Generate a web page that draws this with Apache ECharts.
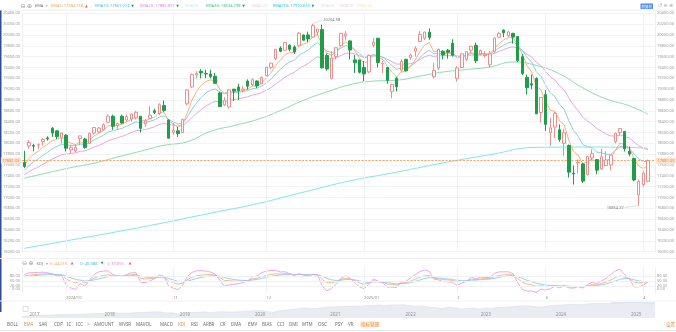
<!DOCTYPE html>
<html><head><meta charset="utf-8">
<script src="https://cdn.jsdelivr.net/npm/echarts@6/dist/echarts.min.js"></script>
<style>html,body{margin:0;padding:0;background:#fff}#c{width:676px;height:332px}</style>
</head><body><div id="c"></div>
<script>
// ---------- data ----------
const dates = ['2024/09/18','2024/09/19','2024/09/20','2024/09/23','2024/09/24','2024/09/25','2024/09/26','2024/09/27','2024/09/30',
'2024/10/01','2024/10/02','2024/10/03','2024/10/04','2024/10/07','2024/10/08','2024/10/09','2024/10/10','2024/10/11','2024/10/14','2024/10/15','2024/10/16','2024/10/17','2024/10/18','2024/10/21','2024/10/22','2024/10/23','2024/10/24','2024/10/25','2024/10/28','2024/10/29','2024/10/30','2024/10/31',
'2024/11/01','2024/11/04','2024/11/05','2024/11/06','2024/11/07','2024/11/08','2024/11/11','2024/11/12','2024/11/13','2024/11/14','2024/11/15','2024/11/18','2024/11/19','2024/11/20','2024/11/21','2024/11/22','2024/11/25','2024/11/26','2024/11/27','2024/11/29',
'2024/12/02','2024/12/03','2024/12/04','2024/12/05','2024/12/06','2024/12/09','2024/12/10','2024/12/11','2024/12/12','2024/12/13','2024/12/16','2024/12/17','2024/12/18','2024/12/19','2024/12/20','2024/12/23','2024/12/24','2024/12/26','2024/12/27','2024/12/30','2024/12/31',
'2025/01/02','2025/01/03','2025/01/06','2025/01/07','2025/01/08','2025/01/10','2025/01/13','2025/01/14','2025/01/15','2025/01/16','2025/01/17','2025/01/21','2025/01/22','2025/01/23','2025/01/24','2025/01/27','2025/01/28','2025/01/29','2025/01/30','2025/01/31',
'2025/02/03','2025/02/04','2025/02/05','2025/02/06','2025/02/07','2025/02/10','2025/02/11','2025/02/12','2025/02/13','2025/02/14','2025/02/18','2025/02/19','2025/02/20','2025/02/21','2025/02/24','2025/02/25','2025/02/26','2025/02/27','2025/02/28',
'2025/03/03','2025/03/04','2025/03/05','2025/03/06','2025/03/07','2025/03/10','2025/03/11','2025/03/12','2025/03/13','2025/03/14','2025/03/17','2025/03/18','2025/03/19','2025/03/20','2025/03/21','2025/03/24','2025/03/25','2025/03/26','2025/03/27','2025/03/28','2025/03/31',
'2025/04/01','2025/04/02'];

const opens = [17647,17950,17960,17970,18030,18100,18280,18230,18100,18150,
17880,17860,18090,18080,18000,18190,18210,18250,18390,18500,
18330,18500,18430,18450,18470,18500,18360,18460,18600,18550,
18700,18430,18200,18230,18200,18730,19040,19260,19330,19290,
19280,19240,18930,18710,18670,19000,19040,18980,19150,19080,
19150,19100,19250,19400,19560,19760,19720,19810,19780,19800,
20000,20000,19960,20050,20100,19620,19200,19600,19800,19980,
19890,19540,19540,19400,19320,19810,19940,19470,19400,18960,
19200,19350,19550,19580,19700,19880,19940,20050,19230,19390,
19700,19720,19850,19200,19400,19550,19720,19810,19650,19620,
19450,19700,19960,20090,19990,20030,19970,19600,19220,19100,
19200,18570,18900,18200,18300,18250,18000,17960,17450,17640,
17620,17420,17730,17700,17530,17590,17600,18030,18200,18220,
17850,17720,17050,17240,17300];

const closes = [17573,18014,17948,17974,18075,18082,18190,18120,18189,17910,
17925,17918,18138,17924,18183,18292,18282,18343,18503,18316,
18367,18374,18490,18540,18573,18277,18415,18519,18567,18713,
18608,18095,18240,18180,18439,18983,19269,19287,19299,19281,
19231,19108,18680,18792,18987,18966,18972,19004,19055,19174,
19060,19218,19404,19481,19735,19700,19860,19737,19687,20035,
19903,19927,20174,20109,19393,19373,19573,19765,20031,20020,
19722,19487,19311,19281,19622,19865,19490,19479,19162,19088,
19044,19511,19338,19630,19757,20009,20054,19954,19342,19734,
19632,19682,19627,19392,19654,19692,19792,19523,19714,19644,
19650,19946,20027,20041,20056,19962,19524,19287,19026,19075,
18544,18847,18350,18285,18553,18069,18196,17468,17436,17648,
17303,17754,17809,17504,17751,17692,17784,18189,18272,17899,
17804,17323,17299,17450,17681.03];

const lows = [17545,17900,17850,17900,17960,18050,18120,18080,18000,17850,
17820,17830,17970,17900,17990,18160,18180,18240,18370,18250,
18250,18360,18400,18400,18440,18200,18300,18450,18540,18520,
18580,18090,18160,18120,18200,18700,19020,19200,19200,19200,
19200,19100,18670,18690,18640,18780,18800,18940,18990,19050,
19020,19090,19240,19370,19540,19680,19710,19700,19650,19790,
19900,19870,19950,19990,19380,19340,19180,19550,19800,19910,
19550,19300,19290,19150,19290,19770,19400,19300,19100,18830,
18960,19320,19330,19540,19600,19870,19910,19910,19200,19350,
19550,19560,19600,19140,19400,19520,19660,19480,19620,19580,
19400,19660,19940,19960,19960,19840,19500,19260,18900,19000,
18540,18380,18230,17950,18100,18030,17770,17370,17240,17450,
17270,17410,17680,17430,17510,17580,17500,18000,18140,17850,
17760,17300,16854.37,17200,17280];

const highs = [17862,18060,17990,18000,18100,18130,18300,18240,18200,18170,
17970,17980,18140,18100,18200,18300,18300,18370,18530,18530,
18380,18530,18530,18550,18600,18500,18450,18690,18640,18740,
18790,18450,18380,18300,18460,19000,19290,19330,19370,19360,
19360,19300,18950,18850,19000,19000,19100,19060,19180,19200,
19160,19230,19410,19490,19740,19790,19870,19830,19810,20055,
20010,20060,20204.58,20110,20190,19660,19700,19770,20035,20070,
19900,19630,19540,19520,19640,19950,19950,19520,19400,19100,
19230,19550,19560,19660,19790,20070,20060,20120,19480,19750,
19720,19740,19920,19420,19670,19700,19800,19860,19730,19700,
19700,19950,20050,20100,20070,20040,19980,19650,19270,19270,
19220,18850,18980,18470,18580,18350,18270,17980,17590,17700,
17640,17770,17890,17710,17900,17850,17800,18200,18280,18230,
17940,17720,17330,17490,17700];

const ema5 = [17580,17725,17799,17857,17930,17981,18051,18074,18112,18045,
18005,17976,18030,17995,18058,18136,18185,18238,18326,18323,
18338,18350,18397,18445,18488,18418,18417,18451,18490,18564,
18579,18418,18359,18299,18346,18558,18795,18959,19072,19142,
19172,19151,18994,18927,18947,18953,18959,18974,19001,19059,
19059,19112,19209,19300,19445,19530,19640,19672,19677,19796,
19832,19864,19967,20014,19807,19662,19632,19676,19794,19869,
19820,19709,19576,19478,19526,19639,19589,19552,19422,19311,
19222,19318,19325,19427,19537,19694,19814,19861,19688,19703,
19679,19680,19662,19572,19599,19630,19684,19630,19658,19653,
19652,19750,19842,19908,19957,19959,19814,19638,19434,19314,
19057,18987,18775,18612,18592,18418,18344,18052,17847,17781,
17622,17666,17714,17644,17680,17684,17717,17874,18007,17971,
17915,17718,17578,17535,17584];

const ema10 = [17500,17593,17658,17715,17780,17835,17900,17940,17985,17971,
17963,17955,17988,17976,18014,18065,18104,18147,18212,18231,
18256,18277,18316,18357,18396,18374,18381,18406,18435,18486,
18508,18433,18398,18358,18373,18484,18627,18747,18847,18926,
18981,19004,18945,18917,18930,18937,18943,18954,18972,19009,
19018,19054,19118,19184,19284,19360,19451,19503,19536,19627,
19677,19722,19804,19859,19774,19701,19678,19694,19755,19803,
19788,19733,19656,19588,19594,19643,19615,19590,19512,19435,
19364,19391,19381,19426,19486,19581,19667,19719,19650,19665,
19659,19663,19656,19608,19616,19630,19659,19634,19649,19648,
19648,19702,19761,19812,19856,19875,19811,19716,19591,19497,
19324,19237,19076,18932,18863,18719,18624,18414,18236,18129,
17979,17938,17915,17840,17824,17800,17797,17868,17941,17933,
17910,17803,17711,17664,17667];

const ema20 = [17420,17477,17522,17565,17614,17659,17710,17749,17791,17802,
17814,17824,17854,17861,17892,17930,17964,18000,18048,18074,
18102,18128,18162,18198,18234,18238,18255,18280,18307,18346,
18371,18345,18335,18320,18331,18393,18476,18553,18624,18687,
18739,18774,18765,18768,18789,18806,18822,18839,18860,18890,
18906,18936,18981,19029,19096,19154,19221,19270,19310,19379,
19429,19476,19542,19596,19577,19558,19559,19579,19622,19660,
19666,19649,19617,19585,19589,19615,19603,19591,19550,19506,
19462,19467,19455,19472,19499,19548,19596,19630,19603,19615,
19617,19623,19623,19601,19606,19614,19631,19621,19630,19631,
19633,19663,19698,19731,19762,19781,19757,19712,19647,19593,
19493,19432,19329,19230,19166,19062,18980,18836,18703,18603,
18479,18410,18353,18272,18222,18172,18135,18140,18153,18129,
18098,18024,17955,17907,17885];

// [day index, value]
const ema60 = [[0,17355],[5,17457],[10,17551],[15,17634],[20,17746],[25,17855],[30,17964],[35,18029],[40,18221],[45,18327],[50,18439],[55,18604],[60,18795],[65,18949],[70,19083],[75,19149],[80,19165],[85,19240],[90,19317],[95,19362],[100,19409],[105,19501],[110,19438],[115,19281],[120,19024],[125,18820],[130,18692],[134,18534]];
const ema250 = [[0,16063],[10,16215],[20,16370],[30,16534],[40,16711],[50,16885],[60,17100],[70,17308],[80,17468],[90,17639],[100,17790],[110,17925],[120,17932],[130,17925],[134,17910]];

const kdjK = [78.7,84.8,87.2,89.5,92.0,92.0,90.3,85.5,85.3,61.2,48.1,38.7,47.8,39.2,51.5,67.0,76.7,82.8,87.2,81.1,
78.7,77.5,82.7,87.5,89.7,66.1,62.1,63.1,67.1,76.4,73.9,49.6,40.1,31.1,37.4,57.6,71.1,79.7,84.5,87.3,
87.9,84.9,70.3,52.5,51.0,49.0,47.7,48.8,51.9,61.6,66.1,76.7,84.1,89.1,92.4,91.3,93.9,90.6,86.4,90.3,
87.2,85.1,88.4,86.6,58.4,40.3,39.5,45.3,57.9,65.9,61.6,51.1,38.4,30.3,37.2,50.8,46.2,42.8,30.9,28.3,
25.2,37.1,39.7,50.1,61.1,72.4,81.3,83.2,66.5,63.7,58.1,56.1,52.7,43.8,46.5,49.7,61.1,57.1,62.7,63.5,
64.0,75.7,82.5,85.7,88.5,85.7,63.1,43.1,32.4,26.6,17.7,20.8,16.2,16.1,20.7,16.1,20.1,15.1,13.4,16.6,
12.4,20.9,27.9,26.6,34.4,43.3,56.2,70.5,80.0,72.0,62.7,42.5,38.7,39.8,45.9];
const kdjD = [74.2,77.7,80.9,83.8,86.5,88.3,89.0,87.8,87.0,78.4,68.3,58.4,54.9,49.7,50.3,55.9,62.8,69.5,75.4,77.3,
77.8,77.7,79.4,82.1,84.6,78.4,73.0,69.7,68.8,71.3,72.2,64.7,56.5,48.0,44.5,48.9,56.3,64.1,70.9,76.4,
80.2,81.8,78.0,69.5,63.3,58.5,54.9,52.9,52.6,55.6,59.1,65.0,71.4,77.3,82.3,85.3,88.2,89.0,88.1,88.8,
88.3,87.2,87.6,87.3,77.7,65.2,56.6,52.8,54.5,58.3,59.4,56.6,50.5,43.8,41.6,44.7,45.2,44.4,39.9,36.0,
32.4,34.0,35.9,40.6,47.4,55.7,64.2,70.5,69.2,67.4,64.3,61.6,58.6,53.7,51.3,50.8,54.2,55.2,57.7,59.6,
61.1,66.0,71.5,76.2,80.3,82.1,75.8,64.9,54.1,44.9,35.8,30.8,25.9,22.6,22.0,20.0,20.0,18.4,16.7,16.7,
15.3,17.2,20.8,22.7,26.6,32.2,40.2,50.3,60.2,64.1,63.6,56.6,50.6,47.0,46.6];
const kdjJ = [87.7,99.0,99.8,100.9,103.0,99.4,92.9,80.9,81.9,26.8,7.7,-0.7,33.6,18.2,53.9,89.2,104.5,109.4,110.8,88.7,
80.5,77.1,89.3,98.3,99.9,41.5,40.3,49.9,63.7,86.6,77.3,19.4,7.3,-2.7,23.2,75.0,100.7,110.9,111.7,109.1,
103.3,91.1,54.9,18.5,26.4,30.0,33.3,40.6,50.5,73.6,80.1,100.1,109.5,112.7,112.6,103.3,105.3,93.8,83.0,93.3,
85.0,80.9,90.0,85.2,19.8,-9.5,5.3,30.3,64.7,81.1,66.0,40.1,14.2,3.3,28.4,63.0,48.2,39.6,12.9,12.9,
10.8,43.3,47.3,69.1,88.5,105.8,115.5,108.6,61.1,56.3,45.7,45.1,40.9,24.0,36.9,47.5,74.9,60.9,72.7,71.3,
69.8,95.1,104.5,104.7,104.9,92.9,37.7,-0.5,-11.0,-10.0,-18.5,0.8,-3.2,3.1,18.1,8.3,20.3,8.5,6.8,16.4,
6.6,28.3,42.1,34.4,50.0,65.5,88.2,110.9,119.6,87.8,60.9,14.3,14.9,25.4,44.5];
const kdjLabelTicks = [0, 20, 50, 80];

// overview (navigator) monthly closes, Nov 2016 .. Apr 2025
const navStart = [2016, 11];
const navClose = [5323,5383,
5615,5825,5912,6048,6199,6140,6348,6429,6496,6728,6873,6903,
7411,7273,7063,7066,7442,7510,7672,8109,8046,7306,7331,6635,
7282,7533,7729,8095,7453,8006,8175,7963,7999,8292,8665,8973,
9151,8567,7700,8890,9490,10059,10745,11775,11168,10912,12199,12888,
13070,13192,13247,13962,13749,14504,14673,15259,14448,15498,15538,15645,
14240,13751,14221,12335,12081,11029,12391,11816,10576,10988,11468,10466,
11585,11456,12222,12227,12935,13788,14346,14035,13219,12851,14226,15011,
15164,16092,16379,15658,16735,17733,17599,17714,18189,18095,19218,19311,
19627,18847,17299,17681];

const emaLegend = [
  {name:'EMA5', value:'17584.158', color:'#f5a35c', arrow:'▲', on:true},
  {name:'EMA10', value:'17667.074', color:'#5cb8ea', arrow:'▼', on:true},
  {name:'EMA20', value:'17885.807', color:'#e48ad8', arrow:'▼', on:true},
  {name:'EMA30', color:'#cfe4f6', on:false},
  {name:'EMA60', value:'18534.298', color:'#47c08a', arrow:'▼', on:true},
  {name:'EMA120', color:'#f8cfd6', on:false},
  {name:'EMA250', value:'17910.613', color:'#27c7d4', arrow:'▼', on:true},
  {name:'EMA90', color:'#dedede', on:false},
  {name:'EMA99', color:'#e6d6f6', on:false},
  {name:'EMA144', color:'#f8e6b3', on:false}
];
const emaLegendX = [51,95,140,185,206,252,273,321,340,357];
const kdjLegend = [
  {name:'K', value:'44.010', color:'#f5a35c', arrow:'▲'},
  {name:'D', value:'46.088', color:'#5cb8ea', arrow:'▼'},
  {name:'J', value:'39.855', color:'#e48ad8', arrow:'▲'}
];
const kdjLegendX = [50,80,108];
const tabs = ['BOLL','EMA','SAR','CDP','IC','ICC','>','AMOUNT','WVSR','MAVOL','MACD','KDJ','RSI','ARBR','CR','DMA','EMV','BIAS','CCI','DMI','MTM','OSC','PSY','VR','指标管理'];
const tabX = [7,24,39,54,67,76,87,94,119,136,160,178,191,203,220,231,248,262,277,289,302,318,335,348,360];
const activeTabs = ['EMA','KDJ','指标管理'];

// ---------- derived ----------
const cats = dates.concat(['']);
const candle = dates.map((d, i) => [opens[i], closes[i], lows[i], highs[i]]);
const monthStarts = [];
dates.forEach((d, i) => { if (i > 0 && d.slice(5, 7) !== dates[i - 1].slice(5, 7)) monthStarts.push(i); });
const monthLabel = {};
monthStarts.forEach((i, k) => {
  const y = dates[i].slice(0, 4), m = dates[i].slice(5, 7);
  monthLabel[i] = (k === 0 || m === '01') ? y + '/' + m : String(Number(m));
});
const navCats = navClose.map((v, i) => {
  const t = navStart[0] * 12 + (navStart[1] - 1) + i;
  return Math.floor(t / 12) + '/' + String(t % 12 + 1).padStart(2, '0');
});
const navWinStart = navCats.indexOf(dates[0].slice(0, 7));
const lastPrice = closes[closes.length - 1];
const hiVal = Math.max(...highs), hiIdx = highs.indexOf(hiVal);
const loVal = Math.min(...lows), loIdx = lows.indexOf(loVal);

// ---------- chart ----------
const FONT = '"Noto Sans", sans-serif';
const chart = echarts.init(document.getElementById('c'), null, {renderer: 'canvas'});
const vGrid = monthStarts.map(i => ({xAxis: i}));
const txt = (x, y, text, fill, extra) => ({type:'text', x, y, silent:true, z:100,
  style: Object.assign({text, fill, font: '4px ' + FONT, verticalAlign:'middle', align:'left'}, extra || {})});

const graphic = [
  {type:'rect', shape:{x:0,y:10,width:1.5,height:302}, style:{fill:'#2e4d96'}, silent:true},
  {type:'line', shape:{x1:0,y1:10,x2:676,y2:10}, style:{stroke:'#eeeeee',lineWidth:1}, silent:true},
  {type:'line', shape:{x1:0,y1:258.5,x2:676,y2:258.5}, style:{stroke:'#f0f0f0',lineWidth:1}, silent:true},
  {type:'line', shape:{x1:0,y1:301,x2:676,y2:301}, style:{stroke:'#f0f0f0',lineWidth:1}, silent:true},
  {type:'line', shape:{x1:0,y1:330.5,x2:676,y2:330.5}, style:{stroke:'#e6e6e6',lineWidth:1}, silent:true},
  {type:'rect', shape:{x:23,y:306.5,width:5,height:5,r:0.5}, style:{fill:'#fff',stroke:'#c4c8d0',lineWidth:0.6}, silent:true},
  txt(20.5,6,'⊖','#9a9a9a',{font:'6px DejaVu Sans'}), txt(27,6,'⊕','#9a9a9a',{font:'6px DejaVu Sans'}),
  txt(35,6,'EMA','#777'), txt(45.5,6,'▾','#aaa',{font:'4px DejaVu Sans'}),
  {type:'rect', shape:{x:640.5,y:3.5,width:12.5,height:5.5,r:0.5}, style:{fill:'#4f89ee'}, silent:true},
  txt(646.75,6.3,'前复权','#fff',{font:'3.5px "Noto Sans CJK SC"', align:'center'}),
  txt(658,6,'↺','#aaa',{font:'5px DejaVu Sans'}), txt(663.5,6,'⊖','#aaa',{font:'5px DejaVu Sans'}), txt(669,6,'⊕','#aaa',{font:'5px DejaVu Sans'}),
  txt(22,263.5,'⊖','#9a9a9a',{font:'6px DejaVu Sans'}), txt(28.5,263.5,'⊕','#9a9a9a',{font:'6px DejaVu Sans'}),
  txt(36.5,263.5,'KDJ','#777'), txt(46,263.5,'▾','#aaa',{font:'4px DejaVu Sans'})
];
emaLegend.forEach((e, k) => {
  const x = emaLegendX[k];
  const label = e.value ? e.name + ': ' + e.value : e.name;
  graphic.push(txt(x, 6, label, e.color));
  if (e.arrow) {
    const w = label.length * 2.2 + 1;
    graphic.push(txt(x + w, 6, e.arrow, e.arrow === '▲' ? '#ee5b5b' : '#25a35a', {font:'3.5px DejaVu Sans'}));
  }
});
kdjLegend.forEach((e, k) => {
  const x = kdjLegendX[k];
  const label = e.name + ': ' + e.value;
  graphic.push(txt(x, 263.5, label, e.color));
  graphic.push(txt(x + label.length * 2.2 + 1, 263.5, e.arrow, e.arrow === '▲' ? '#ee5b5b' : '#25a35a', {font:'3.5px DejaVu Sans'}));
});
tabs.forEach((t, k) => {
  const active = activeTabs.indexOf(t) >= 0;
  const extra = {font: '4.5px ' + (/[\u4e00-\u9fff]/.test(t) ? '"Noto Sans CJK SC"' : FONT)};
  if (t === '指标管理') { extra.backgroundColor = '#fdeee2'; extra.padding = [0.5, 1]; }
  graphic.push(txt(tabX[k], 324.3, t, active ? '#f08a3c' : '#6b6b6b', extra));
});
graphic.push(txt(666, 324.3, '设置', '#f08a3c', {font:'4.5px "Noto Sans CJK SC"'}));
// navigator year labels placed on the overview axis positions
const navYears = navCats.map((c, i) => c.slice(5) === '01' ? i : -1).filter(i => i >= 0);

const yLab = {fontSize:4, color:'#9a9a9a', fontFamily:FONT, margin:2};
const option = {
  animation: false,
  backgroundColor: '#fff',
  textStyle: {fontFamily: FONT},
  grid: [
    {left:22, right:21, top:13.3, height:238.4, outerBoundsMode:'none'},
    {left:22, right:21, top:267.6, height:25, outerBoundsMode:'none'},
    {left:22, right:21, top:302, height:16, outerBoundsMode:'none'}
  ],
  xAxis: [
    {type:'category', gridIndex:0, data:cats, boundaryGap:true, axisLine:{show:false}, axisTick:{show:false}, axisLabel:{show:false}, splitLine:{show:false}},
    {type:'category', gridIndex:1, data:cats, boundaryGap:true, axisLine:{show:false}, axisTick:{show:false}, splitLine:{show:false},
     axisLabel:{fontSize:4, color:'#8a8a8a', margin:3, align:'left', interval:(i) => monthLabel[i] !== undefined, formatter:(v, i) => monthLabel[i] || ''}},
    {type:'category', gridIndex:2, data:navCats, boundaryGap:false, axisLine:{show:false}, axisTick:{show:false}, splitLine:{show:false}, z:10,
     axisLabel:{show:true, inside:true, fontSize:4.5, color:'#8f8f8f', margin:1, interval:(i) => navYears.indexOf(i) >= 0, formatter:(v) => v.slice(0, 4)}}
  ],
  yAxis: [
    {type:'value', gridIndex:0, min:16000, max:20400, interval:200, position:'left', axisLine:{show:true, lineStyle:{color:'#eceef2'}}, axisTick:{show:false},
     splitLine:{lineStyle:{color:'#f2f3f5'}}, axisLabel:Object.assign({formatter:(v) => v.toFixed(2)}, yLab)},
    {type:'value', gridIndex:0, min:16000, max:20400, interval:200, position:'right', axisLine:{show:true, lineStyle:{color:'#eceef2'}}, axisTick:{show:false},
     splitLine:{show:false}, axisLabel:Object.assign({formatter:(v) => v.toFixed(2)}, yLab)},
    {type:'value', gridIndex:1, min:-20, max:130, interval:10, position:'left', axisLine:{show:true, lineStyle:{color:'#eceef2'}}, axisTick:{show:false},
     splitLine:{show:false}, axisLabel:Object.assign({formatter:(v) => kdjLabelTicks.indexOf(v) >= 0 ? v.toFixed(2) : ''}, yLab)},
    {type:'value', gridIndex:1, min:-20, max:130, interval:10, position:'right', axisLine:{show:true, lineStyle:{color:'#eceef2'}}, axisTick:{show:false},
     splitLine:{show:false}, axisLabel:Object.assign({formatter:(v) => kdjLabelTicks.indexOf(v) >= 0 ? v.toFixed(2) : ''}, yLab)},
    {type:'log', gridIndex:2, min:4500, max:20500, axisLine:{show:false}, axisTick:{show:false}, axisLabel:{show:false}, splitLine:{show:false}}
  ],
  graphic: graphic,
  series: [
    {name:'EMA250', type:'line', xAxisIndex:0, yAxisIndex:0, data:ema250, smooth:true, symbol:'none', z:1,
     lineStyle:{color:'#7fe6ee', width:1},
     markLine:{silent:true, symbol:['none','none'], label:{show:false}, lineStyle:{color:'#eef0f3', width:1, type:'solid'}, data:vGrid}},
    {name:'EMA60', type:'line', xAxisIndex:0, yAxisIndex:0, data:ema60, smooth:true, symbol:'none', z:2, lineStyle:{color:'#8ddcb2', width:1}},
    {name:'EMA20', type:'line', xAxisIndex:0, yAxisIndex:0, data:ema20, symbol:'none', z:2, lineStyle:{color:'#eaa6e2', width:1}},
    {name:'EMA10', type:'line', xAxisIndex:0, yAxisIndex:0, data:ema10, symbol:'none', z:2, lineStyle:{color:'#8ccdee', width:1}},
    {name:'EMA5', type:'line', xAxisIndex:0, yAxisIndex:0, data:ema5, symbol:'none', z:2, lineStyle:{color:'#f7b47a', width:1}},
    {name:'K', type:'candlestick', xAxisIndex:0, yAxisIndex:0, data:candle, barWidth:3, z:5,
     itemStyle:{color:'#ffffff', color0:'#1f9e4a', borderColor:'#f08c8c', borderColor0:'#1f9e4a', borderWidth:1},
     markLine:{silent:true, symbol:['none','none'], animation:false, data:[
       {yAxis:lastPrice, lineStyle:{color:'#f7a35c', type:[2,1.5], width:0.8},
        label:{position:'start', distance:1, formatter:lastPrice.toFixed(2), fontSize:4, color:'#f07f35', backgroundColor:'#fde4d2', padding:[1,1.5]}},
       {yAxis:lastPrice, lineStyle:{color:'#f7a35c', type:[2,1.5], width:0.8},
        label:{position:'end', distance:1, formatter:lastPrice.toFixed(2), fontSize:4, color:'#f07f35', backgroundColor:'#fde4d2', padding:[1,1.5]}},
       [{coord:[hiIdx, hiVal], lineStyle:{color:'#c8c8c8', width:0.6, type:'solid'}, label:{position:'end', distance:1, formatter:hiVal.toFixed(2), fontSize:4, color:'#777'}},
        {coord:[hiIdx + 2, hiVal + 70], label:{position:'end', distance:1, formatter:hiVal.toFixed(2), fontSize:4, color:'#777'}}],
       [{coord:[loIdx, loVal], lineStyle:{color:'#c8c8c8', width:0.6, type:'solid'}, label:{position:'end', distance:1, formatter:loVal.toFixed(2), fontSize:4, color:'#777'}},
        {coord:[loIdx - 3, loVal - 40], label:{position:'end', distance:1, formatter:loVal.toFixed(2), fontSize:4, color:'#777'}}]
     ]}},
    {name:'KDJ-K', type:'line', xAxisIndex:1, yAxisIndex:2, data:kdjK, symbol:'none', z:3, lineStyle:{color:'#f7b47a', width:0.9},
     markLine:{silent:true, symbol:['none','none'], label:{show:false}, lineStyle:{color:'#eef0f3', width:1, type:'solid'},
       data: vGrid.concat([{yAxis:20},{yAxis:50},{yAxis:80}])}},
    {name:'KDJ-D', type:'line', xAxisIndex:1, yAxisIndex:2, data:kdjD, symbol:'none', z:3, lineStyle:{color:'#8ccdee', width:0.9}},
    {name:'KDJ-J', type:'line', xAxisIndex:1, yAxisIndex:2, data:kdjJ, symbol:'none', z:3, lineStyle:{color:'#ef9be9', width:0.9}},
    {name:'overview', type:'line', xAxisIndex:2, yAxisIndex:4, data:navClose, symbol:'none', z:1,
     lineStyle:{color:'#d9dfe8', width:0.6}, areaStyle:{color:'#e9edf3', opacity:1, origin:'start'},
     markArea:{silent:true, itemStyle:{color:'rgba(160,176,204,0.28)'}, data:[[{xAxis:navWinStart}, {xAxis:navCats.length - 1}]]}}
  ]
};
chart.setOption(option);
</script></body></html>
